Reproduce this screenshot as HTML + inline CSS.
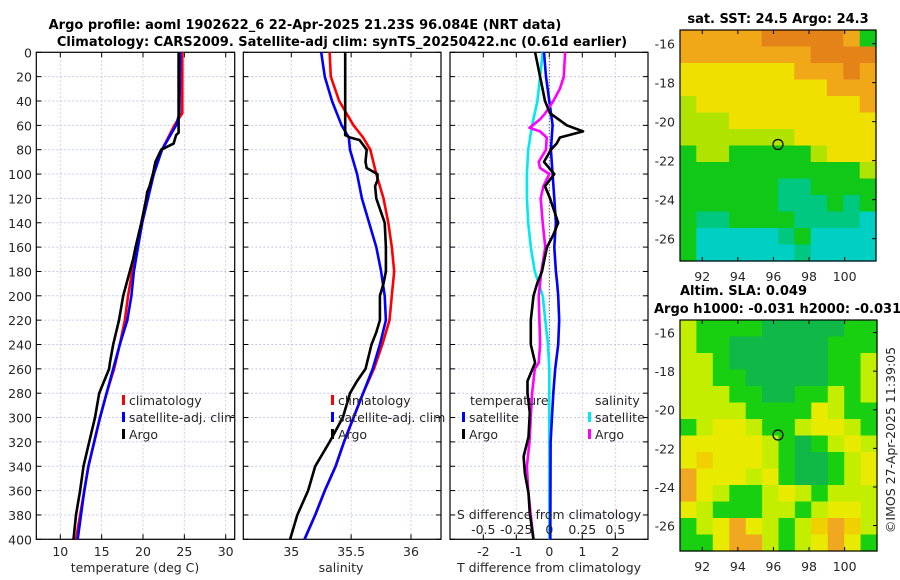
<!DOCTYPE html>
<html><head><meta charset="utf-8">
<style>
body{margin:0;background:#fff;}
svg{display:block;font-family:"DejaVu Sans","Liberation Sans",sans-serif;}
.t{font-size:12.5px;fill:#262626;}
.b{font-size:13px;font-weight:bold;fill:#000;}
</style></head>
<body>
<svg id="chart" width="900" height="580" viewBox="0 0 900 580" xmlns="http://www.w3.org/2000/svg">
<text class="b" x="305" y="29" text-anchor="middle">Argo profile: aoml 1902622_6 22-Apr-2025 21.23S 96.084E (NRT data)</text>
<text class="b" x="342" y="46" text-anchor="middle">Climatology: CARS2009. Satellite-adj clim: synTS_20250422.nc (0.61d earlier)</text>
<text class="b" x="778" y="23" text-anchor="middle">sat. SST: 24.5 Argo: 24.3</text>
<text class="b" x="680" y="295">Altim. SLA: 0.049</text>
<text class="b" x="654" y="313">Argo h1000: -0.031 h2000: -0.031</text>
<text class="t" transform="translate(895,440) rotate(-90)" text-anchor="middle">©IMOS 27-Apr-2025 11:39:05</text>
<g id="g"></g>
</svg>
<script>
// ---- data ----
const depthTc = [0,50,60,80,100,120,140,160,180,200,220,240,260,280,300,320,340,360,380,400];
const tempClim = [24.75,24.75,23.8,22.3,21.2,20.4,19.9,19.3,18.7,18.2,17.8,17.2,16.5,15.6,14.8,14.1,13.4,12.9,12.4,11.9];
const tempSat  = [24.5,24.4,24.0,22.3,21.3,20.6,19.9,19.4,18.9,18.6,18.1,17.2,16.4,15.6,14.8,14.1,13.4,12.9,12.5,12.1];
const depthTa = [0,66,68,75,80,90,100,110,115,120,140,160,170,180,190,200,220,240,255,260,280,300,320,340,360,380,400];
const tempArgo = [24.3,24.3,24.0,23.7,22.2,21.5,21.2,20.8,20.5,20.4,19.8,19.1,18.8,18.4,18.0,17.6,17.1,16.4,16.0,15.9,14.7,14.2,13.5,12.8,12.4,11.9,11.6];
const depthSc = [0,20,40,50,60,70,80,100,120,140,160,180,200,220,240,260,280,300,320,340,360,380,400];
const salClim = [35.32,35.33,35.40,35.46,35.52,35.60,35.66,35.71,35.77,35.81,35.84,35.86,35.84,35.82,35.76,35.69,35.60,35.52,35.44,35.37,35.28,35.20,35.11];
const salSat  = [35.25,35.28,35.34,35.38,35.42,35.48,35.49,35.55,35.59,35.65,35.71,35.75,35.78,35.79,35.74,35.68,35.60,35.52,35.44,35.37,35.28,35.20,35.11];
const depthSa = [0,68,70,72,80,90,95,100,105,110,120,140,160,180,190,200,220,230,240,260,270,280,300,320,340,360,380,400];
const salArgo = [35.45,35.45,35.49,35.57,35.63,35.62,35.63,35.72,35.72,35.70,35.71,35.78,35.79,35.79,35.77,35.74,35.74,35.71,35.67,35.62,35.55,35.49,35.43,35.32,35.20,35.14,35.05,34.99];
const depthD = [0,20,40,50,60,65,70,75,80,90,100,110,120,140,150,160,180,190,200,220,240,255,270,280,296,316,332,346,362,379,400];
const tDiffArgo = [-0.43,-0.28,-0.13,0.02,0.53,1.02,0.32,0.22,0.05,-0.16,0.15,-0.13,0.02,0.27,0.12,-0.07,-0.22,-0.37,-0.48,-0.56,-0.56,-0.43,-0.66,-0.66,-0.59,-0.63,-0.78,-0.74,-0.63,-0.59,-0.48];
const depthM = [0,20,30,40,50,55,62,65,70,80,90,95,100,110,120,140,160,180,200,240,255,260,280,300,320,340,360,380,400];
const sDiffArgo = [0.12,0.11,0.08,0.03,-0.03,-0.07,-0.15,-0.07,-0.02,-0.025,-0.08,-0.07,0.0,-0.045,-0.065,-0.05,-0.03,-0.06,-0.08,-0.07,-0.08,-0.11,-0.13,-0.14,-0.15,-0.17,-0.16,-0.14,-0.12];
const depthS2 = [0,20,40,60,80,100,120,140,160,180,190,200,220,240,260,280,320,400];
const tDiffSat = [-0.16,-0.1,0.0,0.1,0.05,0.1,0.15,0.2,0.15,0.2,0.24,0.27,0.3,0.27,0.18,0.12,0.04,0.03];
const sDiffSat = [-0.05,-0.07,-0.09,-0.13,-0.16,-0.17,-0.17,-0.16,-0.14,-0.11,-0.08,-0.05,-0.03,-0.01,0.0,0.0,0.0,0.0];
const depthTicks = [0,20,40,60,80,100,120,140,160,180,200,220,240,260,280,300,320,340,360,380,400];
const tTicks = [10,15,20,25,30];
const sTicks = [35,35.5,36];
const sTickLabels = ['35','35.5','36'];
const dTicks = [-2,-1,0,1,2];
const sdTicks = [-0.5,-0.25,0,0.25,0.5];
const sstRows = ["OOOOODDDDDOG","OOOOOOOODDDD","YYYYYYYOOODO","YYYYYYYYYOOO","LYYYYYYYYYYO","LLLYYYYYYYYY","LLLLLLLYYYYY","GLLGGGGGLYYY","GGGGGGGGGGGL","GGGGGGTTGGGG","GGGGGGTTTGTG","GTTGGGGTTTTC","GCCCCCTGCCCC","GCCCCCCTCCCC"];
const slaRows = ["LGGGGgggggGG","LGGggggggGGG","LLGggggggGGL","LLGGgggggGGL","LLLGGggGGLGL","LLLLGGGGYLGG","GLYYLGGLYYLG","YYYYYLGgGLYL","YyYYYLGggGLY","OYYYLYGggGLY","OYLGGLYLGLLL","YLGGGLLGLYYL","GLYOYLGLyOyL","GGYOOLGLYOYG"];
// ---- geometry ----
const Y0=52.3, PY=1.2175;
const yD = d => Y0 + d*PY;
const xT = t => 60.3 + (t-10)*8.27;
const xS = s => 291.3 + (s-35)*119.7;
const xDT = t => 549.3 + t*33;
const xDS = s => 549.3 + s*132;
const NS='http://www.w3.org/2000/svg';
const G=document.getElementById('g');
function el(tag, attrs, parent){const e=document.createElementNS(NS,tag);for(const k in attrs)e.setAttribute(k,attrs[k]);(parent||G).appendChild(e);return e;}
function txt(x,y,s,anchor,cls,parent){const e=el('text',{x:x,y:y,'text-anchor':anchor||'start','class':cls||'t'},parent);e.textContent=s;return e;}
const panels=[{x0:36.3,x1:234.7,name:'temperature-panel'},{x0:243.3,x1:441,name:'salinity-panel'},{x0:450,x1:648,name:'difference-panel'}];
const yBot=yD(400);
function panel(p, xTicksPx, labels){
  const g=el('g',{});
  
  
  depthTicks.forEach(d=>{const y=yD(d);
    el('line',{x1:p.x0,x2:p.x1,y1:y,y2:y,stroke:'#c4c8ec','stroke-dasharray':'2,2','stroke-width':1},g);
    el('line',{x1:p.x0,x2:p.x0+5,y1:y,y2:y,stroke:'#000'},g);
    el('line',{x1:p.x1-5,x2:p.x1,y1:y,y2:y,stroke:'#000'},g);});
  xTicksPx.forEach((x,i)=>{
    el('line',{x1:x,x2:x,y1:Y0,y2:yBot,stroke:'#e0c8d8','stroke-dasharray':'2,2'},g);
    el('line',{x1:x,x2:x,y1:yBot,y2:yBot-5,stroke:'#000'},g);
    el('line',{x1:x,x2:x,y1:Y0,y2:Y0+5,stroke:'#000'},g);
    const tl=txt(x,556,labels[i],'middle','t',g);
    
    
  });
  el('rect',{x:p.x0,y:Y0,width:p.x1-p.x0,height:yBot-Y0,fill:'none',stroke:'#000','stroke-width':1.2},g);
  return g;
}
function line(xs, ds, fx, color, name, w){
  const pts=xs.map((v,i)=>fx(v).toFixed(1)+','+yD(ds[i]).toFixed(1)).join(' ');
  const e=el('polyline',{points:pts,fill:'none',stroke:color,'stroke-width':w||2.6,'stroke-linejoin':'round'});
  
  
}
panel(panels[0], tTicks.map(xT), tTicks.map(String));
panel(panels[1], sTicks.map(xS), sTickLabels);
const g3=panel(panels[2], dTicks.map(xDT), dTicks.map(String));
el('line',{x1:xDT(0),x2:xDT(0),y1:Y0,y2:yBot,stroke:'#333','stroke-dasharray':'1,2'},g3);
depthTicks.forEach(d=>{const e=txt(32,yD(d)+5,String(d),'end');
  
  });
// series
line(tempClim, depthTc, xT, '#f00', 'temp-climatology-line');
line(tempSat, depthTc, xT, '#00f', 'temp-satellite-line');
line(tempArgo, depthTa, xT, '#000', 'temp-argo-line');
line(salClim, depthSc, xS, '#f00', 'sal-climatology-line');
line(salSat, depthSc, xS, '#00f', 'sal-satellite-line');
line(salArgo, depthSa, xS, '#000', 'sal-argo-line');
line(sDiffSat, depthS2, xDS, '#00e8f0', 'sdiff-satellite-line');
line(tDiffSat, depthS2, xDT, '#00f', 'tdiff-satellite-line');
line(sDiffArgo, depthM, xDS, '#f0f', 'sdiff-argo-line');
line(tDiffArgo, depthD, xDT, '#000', 'tdiff-argo-line');
// axis titles
let e;
e=txt(135,572,'temperature (deg C)','middle');  
e=txt(341,572,'salinity','middle');  
e=txt(549,572,'T difference from climatology','middle');  
e=txt(549,519,'S difference from climatology','middle');  
sdTicks.forEach(s=>{const t=txt(xDS(s),534,String(s),'middle');
  
  });
// legends
function legend(x,y,color,label,name){
  const g=el('g',{});
  
  
  el('rect',{x:x,y:y-10,width:3,height:10,fill:color},g);
  txt(x+7,y,label,'start','t',g);
}
legend(122,405,'#f00','climatology','legend-climatology');
legend(122,422,'#00f','satellite-adj. clim','legend-satellite-adj');
legend(122,439,'#000','Argo','legend-argo');
legend(331,405,'#f00','climatology','legend2-climatology');
legend(331,422,'#00f','satellite-adj. clim','legend2-satellite-adj');
legend(331,439,'#000','Argo','legend2-argo');
e=txt(470,405,'temperature');  
e=txt(595,405,'salinity');  
legend(462,422,'#00f','satellite','legend-t-satellite');
legend(462,439,'#000','Argo','legend-t-argo');
legend(588,422,'#00e8f0','satellite','legend-s-satellite');
legend(588,439,'#f0f','Argo','legend-s-argo');
// maps
const cmapSST={O:'#f0a818',D:'#e48418',Y:'#f0e000',L:'#b0e400',G:'#10c818',T:'#00c880',C:'#00d0c4'};
const cmapSLA={L:'#c4ee00',G:'#18d010',g:'#10b848',Y:'#e8ea00',y:'#f0d000',O:'#f0a820'};
function map(x0,y0,w,h,rows,cmap,latTop,latPerPx,latTicks,name,cx,cy){
  const g=el('g',{});
  
  
  const nr=rows.length,nc=rows[0].length,cw=w/nc,ch=h/nr;
  rows.forEach((r,i)=>{for(let j=0;j<nc;j++)el('rect',{x:(x0+j*cw).toFixed(1),y:(y0+i*ch).toFixed(1),width:(cw+0.6).toFixed(1),height:(ch+0.6).toFixed(1),fill:cmap[r[j]]},g);});
  el('rect',{x:x0,y:y0,width:w,height:h,fill:'none',stroke:'#000','stroke-width':1.2},g);
  const lonT=[92,94,96,98,100];
  lonT.forEach(l=>{const x=x0+(l-90.75)*17.8;
    el('line',{x1:x,x2:x,y1:y0+h,y2:y0+h-4,stroke:'#000'},g);
    el('line',{x1:x,x2:x,y1:y0,y2:y0+4,stroke:'#000'},g);
    txt(x,y0+h+20,String(l),'middle','t',g);});
  latTicks.forEach(l=>{const y=y0+(latTop-l)*latPerPx;
    el('line',{x1:x0+w,x2:x0+w-4,y1:y,y2:y,stroke:'#000'},g);
    txt(x0-5,y+5,String(l),'end','t',g);});
  const c=el('circle',{cx:cx,cy:cy,r:5,fill:'none',stroke:'#000','stroke-width':1.2},g);
  
  
}
map(680,30,196,231,sstRows,cmapSST,-15.3,19.5,[-16,-18,-20,-22,-24,-26],'sst-map',778,144.5);
map(680,320,197,231,slaRows,cmapSLA,-15.35,19.3,[-16,-18,-20,-22,-24,-26],'sla-map',778,435);
</script>
</body></html>
